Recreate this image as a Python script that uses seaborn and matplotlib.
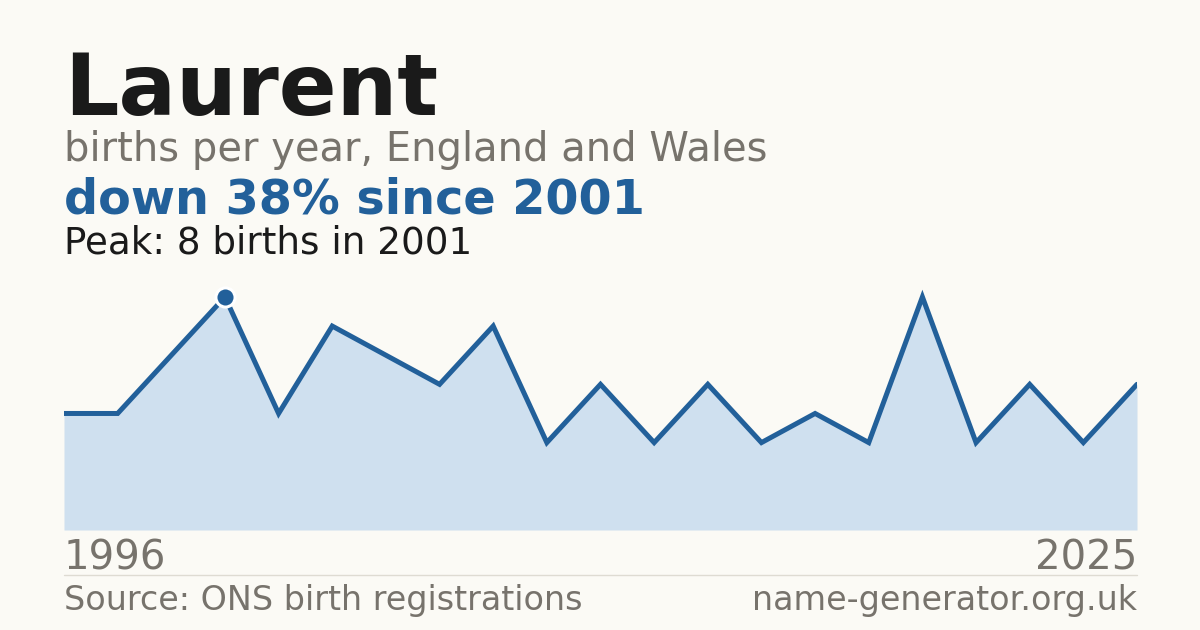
import matplotlib
matplotlib.use("Agg")
import matplotlib.pyplot as plt
import seaborn as sns
import numpy as np
import pandas as pd

years = [1996, 1998, 2000, 2001, 2003, 2004, 2005, 2007, 2008, 2010, 2011,
         2013, 2014, 2016, 2017, 2019, 2020, 2021, 2022, 2024, 2025]
births = [4, 4, 6, 8, 4, 7, 6, 5, 7, 3, 5, 3, 5, 3, 4, 3, 8, 3, 5, 3, 5]
peak_year = 2001
peak_value = 8

BG = "#fbfaf5"
LINE = "#22609a"
FILL = "#cfe0ef"
GREY = "#77736c"
DARK = "#1a1a1a"

sns.set_theme(style="white")
plt.rcParams['font.family'] = ['DejaVu Sans']

W, H = 1200, 630
fig = plt.figure(figsize=(12, 6.3), dpi=100, facecolor=BG)

def fx(x):
    return x / W

def fy(y):
    return 1 - y / H

left, right, top, bottom = 64, 1137, 285, 530
ax = fig.add_axes([fx(left), fy(bottom), fx(right - left), (bottom - top) / H])
ax.set_facecolor(BG)

df = pd.DataFrame({"idx": np.arange(len(years)), "year": years, "births": births})
ax.fill_between(df["idx"], 0, df["births"], color=FILL, linewidth=0, zorder=1)
sns.lineplot(data=df, x="idx", y="births", ax=ax, color=LINE, linewidth=3.6,
             solid_joinstyle="miter", zorder=3)
pk = df[df["year"] == peak_year]
ax.scatter(pk["idx"], pk["births"], s=190, color=LINE, edgecolor="white",
           linewidth=2.2, zorder=4, clip_on=False)
ax.set_xlim(0, len(years) - 1)
ax.set_ylim(0, 8.41)
ax.axis("off")

fig.text(fx(64), fy(115), "Laurent", fontsize=61.5, fontweight="bold", color=DARK,
         ha="left", va="baseline")
fig.text(fx(64), fy(161), "births per year, England and Wales", fontsize=28.8,
         color=GREY, ha="left", va="baseline")
last = births[-1]
pct = round((peak_value - last) / peak_value * 100)
fig.text(fx(64), fy(214), f"down {pct}% since {peak_year}", fontsize=34.4,
         fontweight="bold", color=LINE, ha="left", va="baseline")
fig.text(fx(64), fy(254), f"Peak: {peak_value} births in {peak_year}", fontsize=26.8,
         color=DARK, ha="left", va="baseline")

fig.text(fx(64), fy(569), str(years[0]), fontsize=29, color=GREY,
         ha="left", va="baseline")
fig.text(fx(1137), fy(569), str(years[-1]), fontsize=29, color=GREY,
         ha="right", va="baseline")

fig.add_artist(plt.Line2D([fx(64), fx(1137)], [fy(574.5), fy(574.5)],
                          color="#dedbd2", linewidth=1))

fig.text(fx(64), fy(610), "Source: ONS birth registrations", fontsize=24,
         color=GREY, ha="left", va="baseline")
fig.text(fx(1137), fy(610), "name-generator.org.uk", fontsize=24,
         color=GREY, ha="right", va="baseline")

fig.savefig("out.png", dpi=100, facecolor=BG)
